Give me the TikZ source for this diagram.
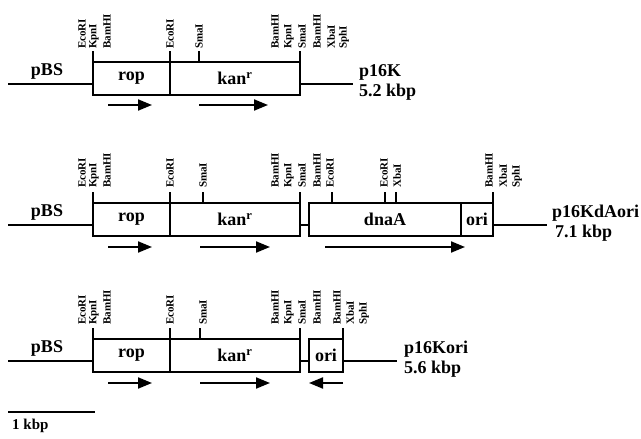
\documentclass[tikz,border=0pt]{standalone}
\usepackage{fontspec}
\setmainfont{Liberation Serif}
\usetikzlibrary{arrows.meta, positioning}

\newcommand{\maplbl}{\fontsize{18}{20}\selectfont\bfseries}
\newcommand{\sitelbl}{\fontsize{11}{12}\selectfont\bfseries}
\newcommand{\kanr}{kan\textsuperscript{r}}

\begin{document}
\begin{tikzpicture}[
    x=1pt, y=-1pt,
    seg/.style={
        draw, line width=2.6pt, minimum height=33pt, inner sep=0pt,
        outer sep=0pt, anchor=north west, font=\maplbl
    },
    backbone/.style={line width=2.6pt},
    cut/.style={line width=1.2pt},
    site/.style={rotate=90, anchor=west, inner sep=0pt, font=\sitelbl},
    gene/.style={-{Triangle[length=14pt, width=11pt]}, line width=2pt},
    plasmid/.style={inner sep=0pt, align=left, font=\maplbl},
    vec/.style={inner sep=0pt, font=\maplbl}
]
\useasboundingbox (0,0) rectangle (641,439);

% =============================================
% ROW 1: p16K
% =============================================
\node[seg, minimum width=77pt] (rop1) at (93,62) {rop};
\node[seg, minimum width=130pt, right=0pt of rop1] (kan1) {\kanr};

\coordinate (start1) at (8,84);
\draw[backbone] (start1) -- ([yshift=-5.5pt]rop1.west);
\draw[backbone] ([yshift=-5.5pt]kan1.east) -- ++(53pt,0) coordinate (end1);

\node[vec] (pbs1) at ([shift={(39pt,13pt)}]start1) {pBS};
\node[plasmid, right=6pt of end1, yshift=2pt] (p16k) {p16K\\5.2 kbp};

\foreach \x in {93,170,199,300}
    \draw[cut] (\x,62) -- (\x,51);
\foreach \x/\s in {82/EcoRI,94/KpnI,107/BamHI,170/EcoRI,199/SmaI,275/BamHI,
                   289/KpnI,302/SmaI,317/BamHI,331/XbaI,344/SphI}
    \node[site] (a\x) at (\x,49) {\s};

\draw[gene] ([shift={(15pt,-10pt)}]rop1.south west) -- ++(44pt,0);
\draw[gene] ([shift={(29pt,-10pt)}]kan1.south west) -- ++(69pt,0);

% =============================================
% ROW 2: p16KdAori
% =============================================
\node[seg, minimum width=77pt] (rop2) at (93,203) {rop};
\node[seg, minimum width=130pt, right=0pt of rop2] (kan2) {\kanr};
\node[seg, minimum width=152pt, right=9pt of kan2] (dnaA) {dnaA};
\node[seg, minimum width=32pt, right=0pt of dnaA] (ori2) {ori};

\coordinate (start2) at (8,225);
\draw[backbone] (start2) -- ([yshift=-5.5pt]rop2.west);
\draw[backbone] ([yshift=-5.5pt]kan2.east) -- ([yshift=-5.5pt]dnaA.west);
\draw[backbone] ([yshift=-5.5pt]ori2.east) -- ++(54pt,0) coordinate (end2);

\node[vec] (pbs2) at ([shift={(39pt,13pt)}]start2) {pBS};
\node[plasmid, right=5pt of end2, yshift=2pt] (p16kdaori) {p16KdAori\\\hspace*{3pt}7.1 kbp};

\foreach \x in {93,170,203,300,332,385,396,493}
    \draw[cut] (\x,203) -- (\x,192);
\foreach \x/\s in {82/EcoRI,94/KpnI,107/BamHI,170/EcoRI,203/SmaI,275/BamHI,
                   289/KpnI,302/SmaI,317/BamHI,330/EcoRI,384/EcoRI,397/XbaI,
                   489/BamHI,503/XbaI,517/SphI}
    \node[site] (b\x) at (\x,188) {\s};

\draw[gene] ([shift={(15pt,-11pt)}]rop2.south west) -- ++(44pt,0);
\draw[gene] ([shift={(30pt,-11pt)}]kan2.south west) -- ++(70pt,0);
\draw[gene] ([shift={(16pt,-11pt)}]dnaA.south west) -- ++(140pt,0);

% =============================================
% ROW 3: p16Kori
% =============================================
\node[seg, minimum width=77pt] (rop3) at (93,339) {rop};
\node[seg, minimum width=130pt, right=0pt of rop3] (kan3) {\kanr};
\node[seg, minimum width=34pt, right=9pt of kan3] (ori3) {ori};

\coordinate (start3) at (8,361);
\draw[backbone] (start3) -- ([yshift=-5.5pt]rop3.west);
\draw[backbone] ([yshift=-5.5pt]kan3.east) -- ([yshift=-5.5pt]ori3.west);
\draw[backbone] ([yshift=-5.5pt]ori3.east) -- ++(54pt,0) coordinate (end3);

\node[vec] (pbs3) at ([shift={(39pt,13pt)}]start3) {pBS};
\node[plasmid, right=7pt of end3, yshift=2pt] (p16kori) {p16Kori\\5.6 kbp};

\foreach \x in {93,170,200,300,343}
    \draw[cut] (\x,339) -- (\x,328);
\foreach \x/\s in {82/EcoRI,94/KpnI,107/BamHI,170/EcoRI,203/SmaI,275/BamHI,
                   289/KpnI,302/SmaI,317/BamHI,337/BamHI,350/XbaI,364/SphI}
    \node[site] (c\x) at (\x,325) {\s};

\draw[gene] ([shift={(15pt,-11pt)}]rop3.south west) -- ++(44pt,0);
\draw[gene] ([shift={(30pt,-11pt)}]kan3.south west) -- ++(70pt,0);
\draw[gene] ([yshift=-11pt]ori3.south east) -- ([yshift=-11pt]ori3.south west);

% =============================================
% SCALE BAR
% =============================================
\coordinate (bar0) at (8,412);
\coordinate (bar1) at (95,412);
\draw[line width=2pt] (bar0) -- (bar1);
\node[inner sep=0pt, anchor=west, font=\fontsize{15}{17}\selectfont\bfseries]
    (kbp) at (12,426) {1 kbp};

\end{tikzpicture}
\end{document}
